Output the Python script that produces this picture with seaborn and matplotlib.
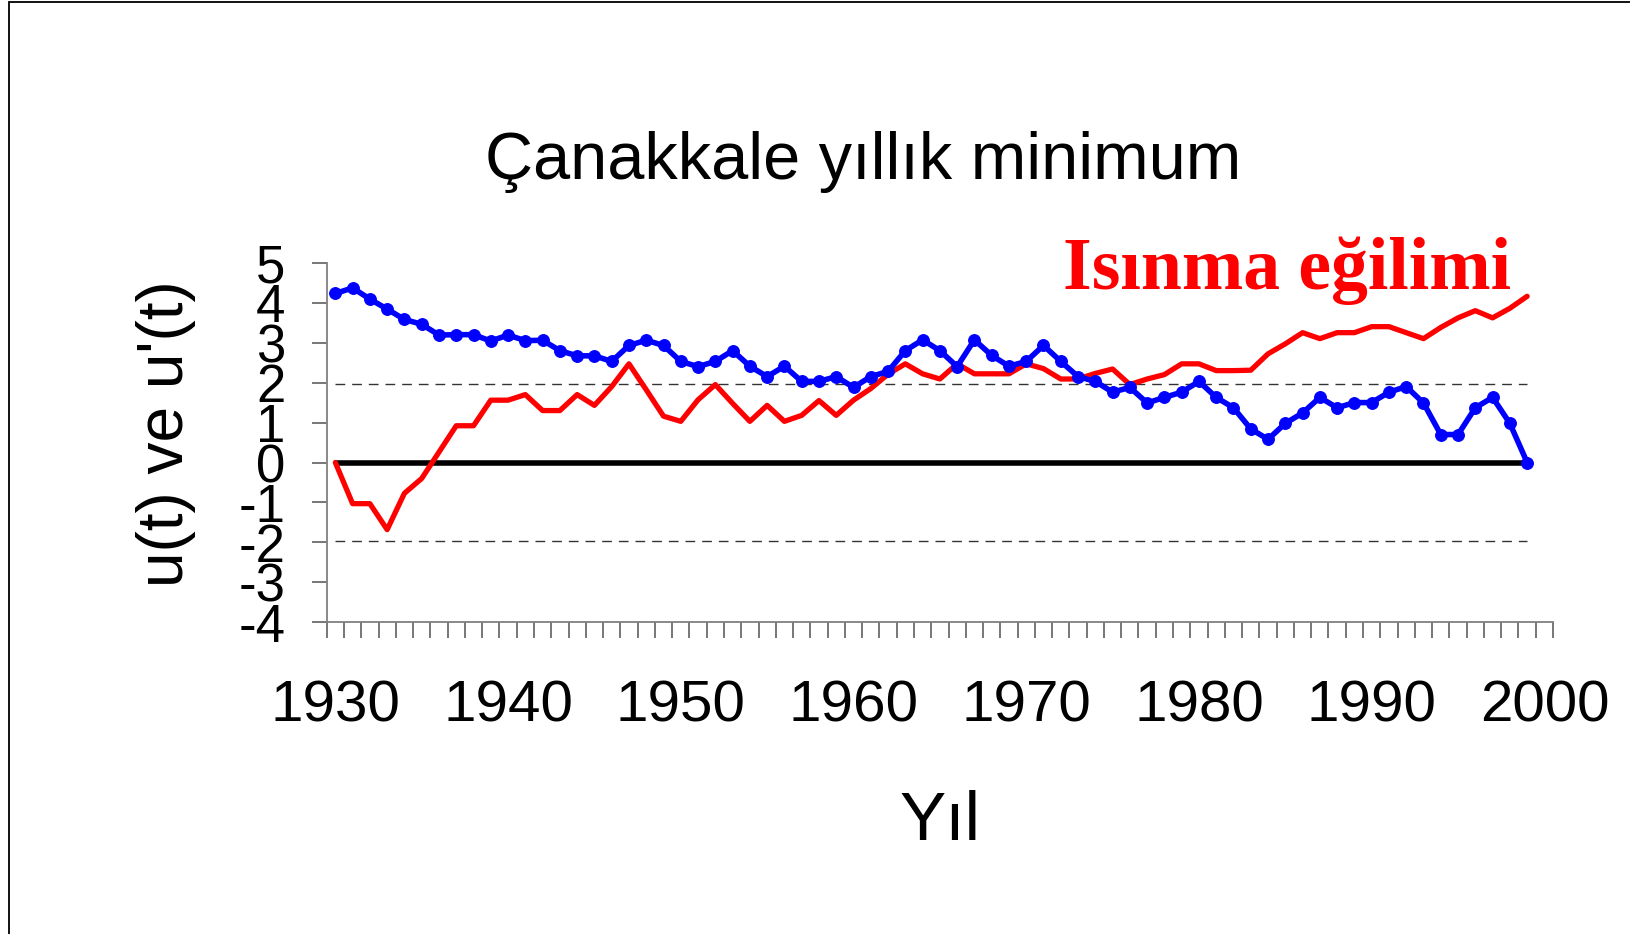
import numpy as np
import pandas as pd
import matplotlib
matplotlib.use('Agg')
import matplotlib.pyplot as plt
import seaborn as sns
from matplotlib.patches import Rectangle

# years 1930-1999
years = list(range(1930, 2000))

# u(t) - progressive series (red)
u_fwd = [0.00, -1.03, -1.03, -1.68, -0.77, -0.40, 0.26, 0.92, 0.92, 1.56,
         1.56, 1.70, 1.30, 1.30, 1.70, 1.43, 1.90, 2.47, 1.82, 1.16,
         1.03, 1.57, 1.95, 1.48, 1.03, 1.43, 1.03, 1.18, 1.55, 1.18,
         1.56, 1.85, 2.21, 2.47, 2.22, 2.09, 2.47, 2.22, 2.22, 2.22,
         2.47, 2.35, 2.09, 2.09, 2.23, 2.34, 1.95, 2.09, 2.20, 2.47,
         2.47, 2.30, 2.30, 2.31, 2.72, 2.97, 3.25, 3.10, 3.25, 3.25,
         3.40, 3.40, 3.25, 3.10, 3.38, 3.62, 3.80, 3.62, 3.86, 4.16]

# u'(t) - retrograde series (blue)
u_back = [4.23, 4.37, 4.09, 3.84, 3.58, 3.46, 3.19, 3.20, 3.20, 3.04,
          3.19, 3.05, 3.06, 2.80, 2.67, 2.67, 2.53, 2.93, 3.06, 2.93,
          2.53, 2.40, 2.53, 2.80, 2.41, 2.15, 2.41, 2.03, 2.03, 2.15,
          1.88, 2.15, 2.28, 2.80, 3.07, 2.80, 2.40, 3.07, 2.68, 2.41,
          2.53, 2.93, 2.53, 2.15, 2.03, 1.76, 1.88, 1.49, 1.63, 1.76,
          2.03, 1.63, 1.37, 0.84, 0.58, 0.98, 1.24, 1.63, 1.37, 1.50,
          1.50, 1.76, 1.90, 1.49, 0.70, 0.70, 1.37, 1.63, 0.98, 0.00]

crit = 1.96  # %95 guven siniri
ytick_vals = list(range(-4, 6))
decades = list(range(1930, 2001, 10))

df = pd.DataFrame({'yil': years, 'u': u_fwd, 'u_ters': u_back})

sns.set_style('white')
plt.rcParams['font.family'] = ['Liberation Sans', 'DejaVu Sans']
plt.rcParams['text.color'] = 'black'
plt.rcParams['axes.labelcolor'] = 'black'
plt.rcParams['xtick.color'] = 'black'
plt.rcParams['ytick.color'] = 'black'

fig = plt.figure(figsize=(16.31, 9.34), dpi=100)
ax = fig.add_axes([0.2003, 0.3337, 0.7519, 0.3850])

# frame around chart area
fig.add_artist(Rectangle((9 / 1631, -0.1), 1.2, 1.1 - 2 / 934, transform=fig.transFigure,
                         fill=False, edgecolor='black', lw=1.3))

# reference lines
ax.hlines(0, years[0], years[-1], color='black', lw=4.0, zorder=2)
ax.hlines([crit, -crit], years[0], years[-1], color='#333333', lw=1.0,
          linestyles=(0, (7, 5)), zorder=2)

sns.lineplot(data=df, x='yil', y='u', ax=ax, color='#ff0000', lw=3.8, zorder=3)
sns.lineplot(data=df, x='yil', y='u_ters', ax=ax, color='#0000ff', lw=4.0,
             marker='o', markersize=8.5, markeredgecolor='#0000ff', zorder=4)

ax.set_xlim(1929.5, 2000.5)
ax.set_ylim(-4, 5)

for s in ['top', 'right']:
    ax.spines[s].set_visible(False)
for s in ['left', 'bottom']:
    ax.spines[s].set_color('#808080')
    ax.spines[s].set_linewidth(1.3)

ax.set_yticks(ytick_vals)
ax.set_yticklabels([str(v) for v in ytick_vals])
ax.tick_params(axis='y', left=True, direction='out', length=10.8, width=1.2,
               color='#606060', labelcolor='black', pad=19, labelsize=38)

ax.set_xticks(np.arange(1929.5, 2001, 1), minor=True)
ax.set_xticks(decades)
ax.set_xticklabels([str(d) for d in decades])
ax.tick_params(axis='x', which='minor', bottom=True, direction='out', length=11.5,
               width=1.2, color='#606060')
ax.tick_params(axis='x', which='major', bottom=True, length=0, pad=41,
               labelsize=42, labelcolor='black')

ax.set_xlabel('Yıl', fontsize=50)
ax.xaxis.set_label_coords(0.5, -0.605)
ax.xaxis.label.set_va('baseline')

ax.set_ylabel("u(t) ve u'(t)", fontsize=46)
ax.yaxis.set_label_coords(-0.131, 0.525)
ax.yaxis.label.set_va('center')

fig.text(863 / 1631, 1 - 179 / 934, 'Çanakkale yıllık minimum', fontsize=48,
         ha='center', va='baseline')
fig.text(1063 / 1631, 1 - 289 / 934, 'Isınma eğilimi', color='#ff0000', fontsize=53,
         fontweight='bold', family=['Liberation Serif', 'DejaVu Serif'],
         ha='left', va='baseline')

fig.savefig('out.png', dpi=100, facecolor='white')
